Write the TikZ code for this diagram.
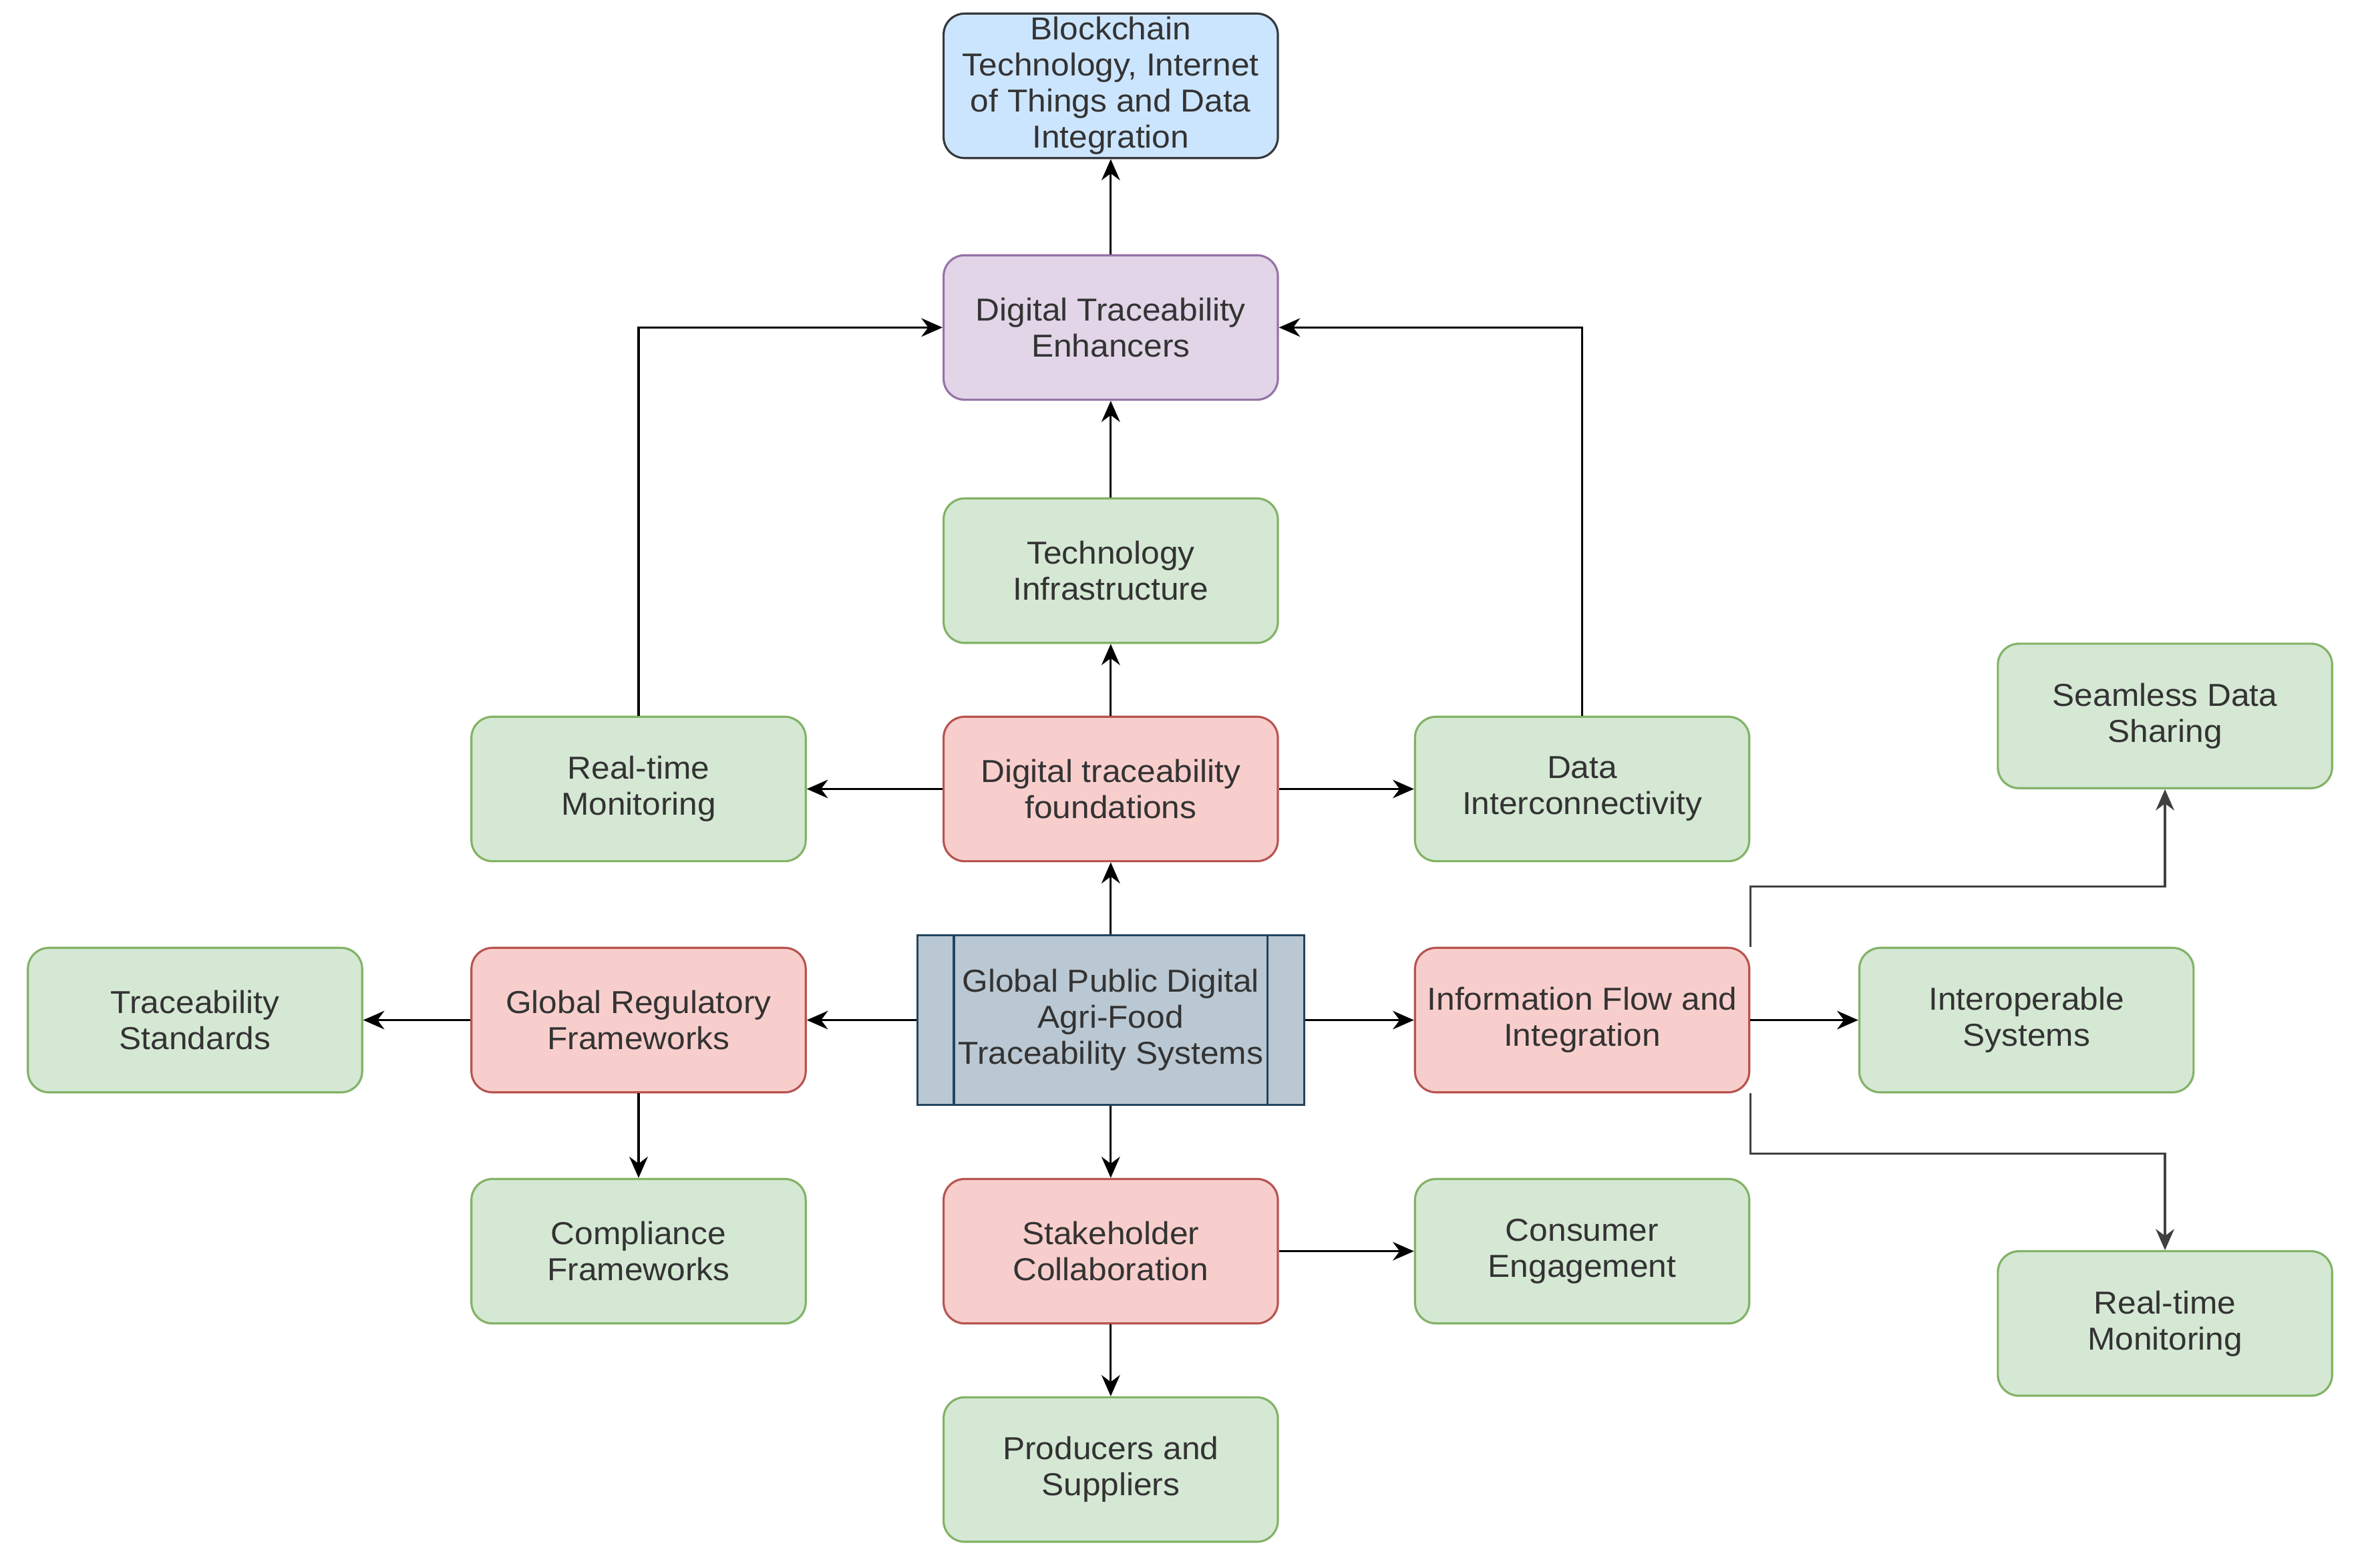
\documentclass[tikz,border=0pt]{standalone}
\usepackage{fontspec}
\setmainfont{Liberation Sans}[FakeStretch=1.045]
\usetikzlibrary{arrows.meta}
\definecolor{greenfill}{HTML}{D5E8D4}
\definecolor{greenline}{HTML}{82B366}
\definecolor{redfill}{HTML}{F8CECC}
\definecolor{redline}{HTML}{B85450}
\definecolor{purplefill}{HTML}{E1D5E7}
\definecolor{purpleline}{HTML}{9673A6}
\definecolor{bluefill}{HTML}{CCE5FF}
\definecolor{blueline}{HTML}{36393D}
\definecolor{procfill}{HTML}{BAC8D3}
\definecolor{procline}{HTML}{23445D}
\tikzstyle{box}=[rectangle, rounded corners=0.28cm, minimum width=4.44cm, minimum height=1.92cm, inner sep=1pt, align=center, line width=0.8pt, text=black!80, font=\fontsize{12}{13.6}\selectfont]
\tikzstyle{boxgreen}=[box, fill=greenfill, draw=greenline]
\tikzstyle{boxred}=[box, fill=redfill, draw=redline]
\tikzstyle{boxpurple}=[box, fill=purplefill, draw=purpleline]
\tikzstyle{boxblue}=[box, fill=bluefill, draw=blueline]
\tikzstyle{boxproc}=[box, rounded corners=0pt, minimum width=5.14cm, minimum height=2.26cm, fill=procfill, draw=procline]
\tikzstyle{link}=[-{Stealth[length=8pt,width=7pt]}, line width=0.8pt]

\begin{document}
\begin{tikzpicture}[x=0.02cm, y=-0.02cm]
		   \useasboundingbox (0,0) rectangle (1567,1041);
		   \begin{scope}
			   \node (0) at (737.5, 57)[boxblue] {Blockchain\\Technology, Internet\\of Things and Data\\Integration};
			   \node (1) at (737.5, 217.5)[boxpurple] {Digital Traceability\\Enhancers};
			   \node (2) at (737.5, 379)[boxgreen] {Technology\\Infrastructure};
			   \node (3) at (424, 524)[boxgreen] {Real-time\\Monitoring};
			   \node (4) at (737.5, 524)[boxred] {Digital traceability\\foundations};
			   \node (5) at (1050.5, 524)[boxgreen] {Data\\Interconnectivity};
			   \node (6) at (1437.5, 475.5)[boxgreen] {Seamless Data\\Sharing};
			   \node (7) at (129.5, 677.5)[boxgreen] {Traceability\\Standards};
			   \node (8) at (424, 677.5)[boxred] {Global Regulatory\\Frameworks};
			   \node (9) at (737.5, 677.5)[boxproc] {Global Public Digital\\Agri-Food\\Traceability Systems};
			   \node (10) at (1050.5, 677.5)[boxred] {Information Flow and\\Integration};
			   \node (11) at (1345.5, 677.5)[boxgreen] {Interoperable\\Systems};
			   \node (12) at (424, 831)[boxgreen] {Compliance\\Frameworks};
			   \node (13) at (737.5, 831)[boxred] {Stakeholder\\Collaboration};
			   \node (14) at (1050.5, 831)[boxgreen] {Consumer\\Engagement};
			   \node (15) at (1437.5, 879)[boxgreen] {Real-time\\Monitoring};
			   \node (16) at (737.5, 976)[boxgreen] {Producers and\\Suppliers};
			   \draw [procline, line width=0.8pt] ([xshift=0.5cm]9.north west) -- ([xshift=0.5cm]9.south west);
			   \draw [procline, line width=0.8pt] ([xshift=-0.5cm]9.north east) -- ([xshift=-0.5cm]9.south east);
		   \end{scope}
		   \begin{scope}
			   \path [link] (1) edge (0);
			   \path [link] (2) edge (1);
			   \path [link] (4) edge (2);
			   \path [link] (4) edge (3);
			   \path [link] (4) edge (5);
			   \draw [link] (3) |- (1);
			   \draw [link] (5) |- (1);
			   \path [link] (9) edge (4);
			   \path [link] (9) edge (8);
			   \path [link] (9) edge (10);
			   \path [link] (9) edge (13);
			   \path [link] (8) edge (7);
			   \path [link] (8) edge (12);
			   \path [link] (13) edge (14);
			   \path [link] (13) edge (16);
			   \path [link] (10) edge (11);
			   \draw [link, black!75] (10.north east) -- ++(0,-40) -| (6);
			   \draw [link, black!75] (10.south east) -- ++(0,40) -| (15);
		   \end{scope}
	   \end{tikzpicture}
\end{document}
